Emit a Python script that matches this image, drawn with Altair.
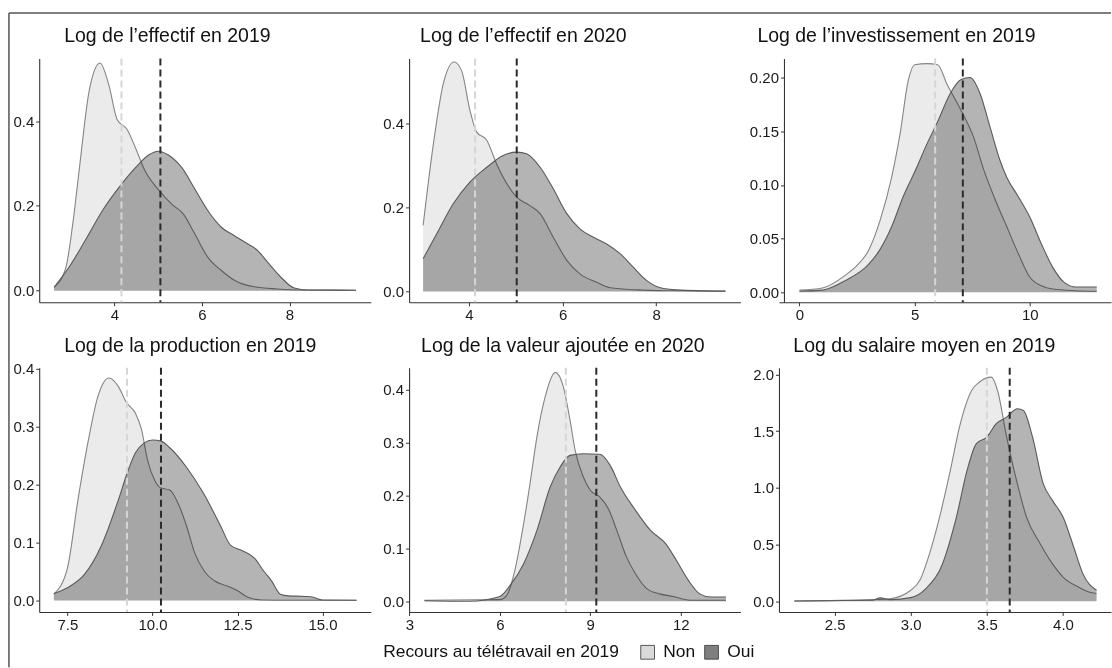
import altair as alt
import pandas as pd

# ---------------- text ----------------
TITLES = [
    "Log de l’effectif en 2019",
    "Log de l’effectif en 2020",
    "Log de l’investissement en 2019",
    "Log de la production en 2019",
    "Log de la valeur ajoutée en 2020",
    "Log du salaire moyen en 2019",
]
GROUPS = ["Non", "Oui"]
LEGEND_TITLE = "Recours au télétravail en 2019"

# ---------------- density curves ----------------
P1_NON_X = [2.62, 2.89, 3.05, 3.2, 3.42, 3.67, 3.87, 4.06, 4.29, 4.48, 4.7, 5.0, 5.31, 5.58, 5.84, 6.14, 6.45, 6.75, 7.2, 7.73, 8.27, 9.52]
P1_NON_Y = [0.008, 0.055, 0.16, 0.29, 0.47, 0.537, 0.486, 0.404, 0.38, 0.337, 0.282, 0.239, 0.204, 0.18, 0.133, 0.078, 0.047, 0.024, 0.009, 0.004, 0.0015, 0.001]
P1_OUI_X = [2.62, 2.96, 3.34, 3.72, 4.1, 4.48, 4.78, 5.0, 5.23, 5.54, 5.84, 6.14, 6.45, 6.75, 7.05, 7.28, 7.5, 7.81, 8.11, 8.42, 9.52]
P1_OUI_Y = [0.008, 0.055, 0.12, 0.188, 0.243, 0.29, 0.32, 0.329, 0.32, 0.29, 0.239, 0.188, 0.149, 0.129, 0.11, 0.094, 0.067, 0.031, 0.006, 0.0015, 0.001]

P2_NON_X = [3.02, 3.24, 3.45, 3.68, 3.84, 4.02, 4.16, 4.38, 4.59, 4.81, 5.02, 5.3, 5.52, 5.8, 6.09, 6.37, 6.73, 7.02, 7.59, 8.3, 9.48]
P2_NON_Y = [0.157, 0.351, 0.493, 0.545, 0.525, 0.43, 0.379, 0.359, 0.303, 0.256, 0.224, 0.204, 0.185, 0.129, 0.074, 0.042, 0.022, 0.009, 0.004, 0.002, 0.001]
P2_OUI_X = [3.02, 3.31, 3.66, 4.02, 4.38, 4.73, 5.02, 5.23, 5.52, 5.8, 6.09, 6.37, 6.66, 6.94, 7.23, 7.51, 7.8, 8.09, 8.44, 9.48]
P2_OUI_Y = [0.078, 0.137, 0.208, 0.26, 0.295, 0.323, 0.331, 0.327, 0.295, 0.244, 0.185, 0.149, 0.129, 0.113, 0.09, 0.058, 0.026, 0.009, 0.004, 0.001]

P3_NON_X = [0, 1, 2, 2.5, 3, 3.5, 4, 4.37, 4.73, 5, 5.53, 6, 6.4, 7, 7.55, 8, 8.5, 9, 9.5, 10, 10.5, 11, 12, 12.9]
P3_NON_Y = [0.002, 0.004, 0.016, 0.025, 0.039, 0.067, 0.107, 0.148, 0.198, 0.212, 0.213, 0.212, 0.194, 0.17, 0.145, 0.114, 0.086, 0.061, 0.036, 0.014, 0.006, 0.003, 0.0015, 0.001]
P3_OUI_X = [0, 1, 2, 3, 3.5, 4, 4.5, 5, 5.53, 6, 6.54, 7, 7.4, 7.84, 8.27, 8.7, 9, 9.5, 10, 10.5, 11, 11.5, 12, 12.9]
P3_OUI_Y = [0.001, 0.002, 0.011, 0.026, 0.04, 0.061, 0.089, 0.112, 0.138, 0.159, 0.185, 0.198, 0.2, 0.185, 0.154, 0.123, 0.107, 0.089, 0.07, 0.045, 0.023, 0.009, 0.005, 0.005]

P4_NON_X = [7.1, 7.5, 7.81, 8.11, 8.4, 8.72, 8.99, 9.23, 9.5, 9.67, 9.86, 10.06, 10.25, 10.5, 10.75, 11, 11.23, 11.53, 11.82, 12.2, 12.5, 12.79, 13.2, 14, 16]
P4_NON_Y = [0.011, 0.056, 0.174, 0.275, 0.353, 0.384, 0.37, 0.342, 0.323, 0.297, 0.241, 0.208, 0.194, 0.191, 0.168, 0.129, 0.084, 0.05, 0.034, 0.025, 0.017, 0.006, 0.001, 0.0005, 0.0005]
P4_OUI_X = [7.1, 7.5, 8, 8.5, 9, 9.28, 9.5, 9.76, 10, 10.25, 10.5, 11, 11.5, 12, 12.3, 12.6, 13, 13.28, 13.5, 13.76, 14, 14.5, 14.7, 15, 16]
P4_OUI_Y = [0.012, 0.022, 0.045, 0.095, 0.174, 0.224, 0.255, 0.272, 0.277, 0.275, 0.264, 0.23, 0.185, 0.129, 0.095, 0.087, 0.073, 0.05, 0.034, 0.011, 0.008, 0.007, 0.006, 0.001, 0.0005]

P5_NON_X = [3.5, 6, 6.23, 6.5, 6.79, 7, 7.23, 7.5, 7.84, 8.11, 8.33, 8.5, 8.77, 9, 9.32, 9.6, 9.88, 10.2, 10.5, 10.87, 11.3, 11.75, 12.3, 13.5]
P5_NON_Y = [0.002, 0.003, 0.011, 0.059, 0.147, 0.222, 0.311, 0.386, 0.433, 0.405, 0.342, 0.285, 0.235, 0.21, 0.197, 0.175, 0.134, 0.084, 0.052, 0.024, 0.014, 0.009, 0.002, 0.002]
P5_OUI_X = [3.5, 5, 6, 6.34, 6.79, 7.23, 7.67, 8, 8.33, 8.77, 9.32, 9.66, 10, 10.5, 11, 11.5, 11.86, 12.25, 12.63, 13, 13.5]
P5_OUI_Y = [0.001, 0.0, 0.009, 0.03, 0.071, 0.134, 0.216, 0.254, 0.276, 0.279, 0.278, 0.257, 0.216, 0.172, 0.134, 0.109, 0.077, 0.04, 0.014, 0.008, 0.008]

P6_NON_X = [2.236, 2.75, 2.865, 3.0, 3.06, 3.13, 3.2, 3.26, 3.32, 3.4, 3.45, 3.53, 3.57, 3.63, 3.7, 3.76, 3.85, 3.93, 4.0, 4.1, 4.17, 4.22]
P6_NON_Y = [0.003, 0.015, 0.023, 0.097, 0.185, 0.449, 0.8, 1.154, 1.536, 1.859, 1.932, 1.977, 1.859, 1.448, 1.037, 0.743, 0.508, 0.332, 0.214, 0.126, 0.082, 0.068]
P6_OUI_X = [2.236, 2.75, 2.8, 2.865, 3.0, 3.1, 3.2, 3.3, 3.37, 3.43, 3.5, 3.56, 3.63, 3.7, 3.74, 3.8, 3.87, 3.93, 4.0, 4.07, 4.13, 4.22]
P6_OUI_Y = [0.003, 0.009, 0.03, 0.015, 0.032, 0.112, 0.302, 0.743, 1.154, 1.389, 1.448, 1.565, 1.624, 1.698, 1.683, 1.448, 1.037, 0.89, 0.743, 0.479, 0.244, 0.097]

# group means (dashed lines)
MEANS_NON = [4.16, 4.13, 5.89, 9.25, 8.19, 3.50]
MEANS_OUI = [5.05, 5.02, 7.09, 10.25, 9.20, 3.65]

# axis ticks
X_TICKS = [[4, 6, 8], [4, 6, 8], [0, 5, 10], [7.5, 10, 12.5, 15], [3, 6, 9, 12], [2.5, 3, 3.5, 4]]
Y_TICKS = [[0, 0.2, 0.4], [0, 0.2, 0.4], [0, 0.05, 0.1, 0.15, 0.2],
           [0, 0.1, 0.2, 0.3, 0.4], [0, 0.1, 0.2, 0.3, 0.4], [0, 0.5, 1, 1.5, 2]]

# ---------------- layout / style ----------------
X_DOMAINS = [[2.28, 9.86], [2.72, 9.80], [-0.887, 13.52], [6.67, 16.42], [2.99, 13.98], [2.135, 4.315]]
Y_DOMAINS = [[-0.0275, 0.5475], [-0.0254, 0.553], [-0.0093, 0.2177],
             [-0.0197, 0.4015], [-0.0202, 0.4416], [-0.094, 2.059]]
X_FORMATS = ["d", "d", "d", ".1f", "d", ".1f"]
Y_FORMATS = [".1f", ".1f", ".2f", ".1f", ".1f", ".1f"]
WIDTHS = [332, 331.7, 332.4, 332, 331.7, 332.4]
HEIGHTS = [244, 244, 244, 244.4, 244.4, 244.4]
TITLE_DX = [25, 11, -21.6, 25, 12, 14.4]
TITLE_DY = [-17, -17, -17, -16, -16, -16]
Y_AXIS_OFFSET = [0, 0, -5, 0, 0, 0]

FONT = "Liberation Sans"
NON_FILL = "#ebebeb"
OUI_FILL = "#b4b4b4"
NON_LINE = "#858585"
OUI_LINE = "#5a5a5a"
NON_MEAN = "#d6d6d6"
OUI_MEAN = "#2a2a2a"

CURVES = [
    (P1_NON_X, P1_NON_Y, P1_OUI_X, P1_OUI_Y),
    (P2_NON_X, P2_NON_Y, P2_OUI_X, P2_OUI_Y),
    (P3_NON_X, P3_NON_Y, P3_OUI_X, P3_OUI_Y),
    (P4_NON_X, P4_NON_Y, P4_OUI_X, P4_OUI_Y),
    (P5_NON_X, P5_NON_Y, P5_OUI_X, P5_OUI_Y),
    (P6_NON_X, P6_NON_Y, P6_OUI_X, P6_OUI_Y),
]

ONE = pd.DataFrame({"k": [0]})


def panel(i):
    nx, ny, ox, oy = CURVES[i]
    non = pd.DataFrame({"x": nx, "y": ny})
    oui = pd.DataFrame({"x": ox, "y": oy})
    x_enc = alt.X(
        "x:Q",
        scale=alt.Scale(domain=X_DOMAINS[i], nice=False, zero=False),
        axis=alt.Axis(values=X_TICKS[i], format=X_FORMATS[i], title=None, labelFlush=False,
                      labelOverlap=False),
    )
    y_enc = alt.Y(
        "y:Q",
        scale=alt.Scale(domain=Y_DOMAINS[i], nice=False, zero=False),
        axis=alt.Axis(values=Y_TICKS[i], format=Y_FORMATS[i], title=None, offset=Y_AXIS_OFFSET[i],
                      labelOverlap=False),
    )
    a_non = alt.Chart(non).mark_area(color=NON_FILL, interpolate="monotone").encode(x=x_enc, y=y_enc)
    l_non = alt.Chart(non).mark_line(color=NON_LINE, strokeWidth=1.1, interpolate="monotone").encode(x=x_enc, y=y_enc)
    a_oui = alt.Chart(oui).mark_area(color=OUI_FILL, interpolate="monotone", blend="multiply").encode(x=x_enc, y=y_enc)
    l_oui = alt.Chart(oui).mark_line(color=OUI_LINE, strokeWidth=1.1, interpolate="monotone").encode(x=x_enc, y=y_enc)
    m_non = alt.Chart(pd.DataFrame({"m": [MEANS_NON[i]]})).mark_rule(
        color=NON_MEAN, strokeWidth=2, strokeDash=[7, 4]).encode(x=alt.X("m:Q"))
    m_oui = alt.Chart(pd.DataFrame({"m": [MEANS_OUI[i]]})).mark_rule(
        color=OUI_MEAN, strokeWidth=2, strokeDash=[7, 4]).encode(x=alt.X("m:Q"))
    title = alt.Chart(ONE).mark_text(
        text=TITLES[i], align="left", baseline="alphabetic", font=FONT, fontSize=19.5,
        color="#111111").encode(x=alt.value(TITLE_DX[i]), y=alt.value(TITLE_DY[i]))
    layers = [a_non, l_non, a_oui, l_oui, m_non, m_oui, title]
    if i == 0:
        frame_v = alt.Chart(ONE).mark_rule(color="#555555", strokeWidth=1.5).encode(
            x=alt.value(-30.3), y=alt.value(-45.7), y2=alt.value(609.3))
        frame_h = alt.Chart(ONE).mark_rule(color="#555555", strokeWidth=1.5).encode(
            x=alt.value(-30.3), x2=alt.value(1073), y=alt.value(-45.7))
        layers += [frame_v, frame_h]
    if i == 4:
        leg = alt.Chart(pd.DataFrame({"g": GROUPS})).mark_square(opacity=0).encode(
            x=alt.value(0), y=alt.value(0),
            fill=alt.Fill(
                "g:N",
                scale=alt.Scale(domain=GROUPS, range=["#d9d9d9", "#7f7f7f"]),
                legend=alt.Legend(
                    title=LEGEND_TITLE, orient="none", direction="horizontal", titleOrient="left",
                    legendX=344.4, legendY=585.3, symbolType="square", symbolSize=190,
                    symbolStrokeColor="#333333", symbolStrokeWidth=0.8, symbolOpacity=1,
                    labelFont=FONT, titleFont=FONT, labelFontSize=17.4, titleFontSize=17.4,
                    titleFontWeight="normal", labelColor="#111111", titleColor="#111111",
                    labelOffset=7, columnPadding=7, titlePadding=20, titleLimit=600,
                    labelLimit=200,
                ),
            ),
        )
        layers.append(leg)
    return alt.layer(*layers).properties(width=WIDTHS[i], height=HEIGHTS[i])


chart = alt.concat(
    *[panel(i) for i in range(6)], columns=3, spacing={"row": 65.6, "column": 38.3}, bounds="flush"
).properties(
    padding={"left": 7.25, "top": 11.25, "right": 0, "bottom": 0},
    background="white",
).configure_view(stroke=None).configure_axis(
    grid=False, domainColor="#333333", domainWidth=1.1, tickColor="#333333", tickSize=3.5,
    labelFont=FONT, labelFontSize=15, labelColor="#1a1a1a", labelPadding=2,
)

chart.save("out.html", embed_options={"renderer": "svg", "actions": False})
